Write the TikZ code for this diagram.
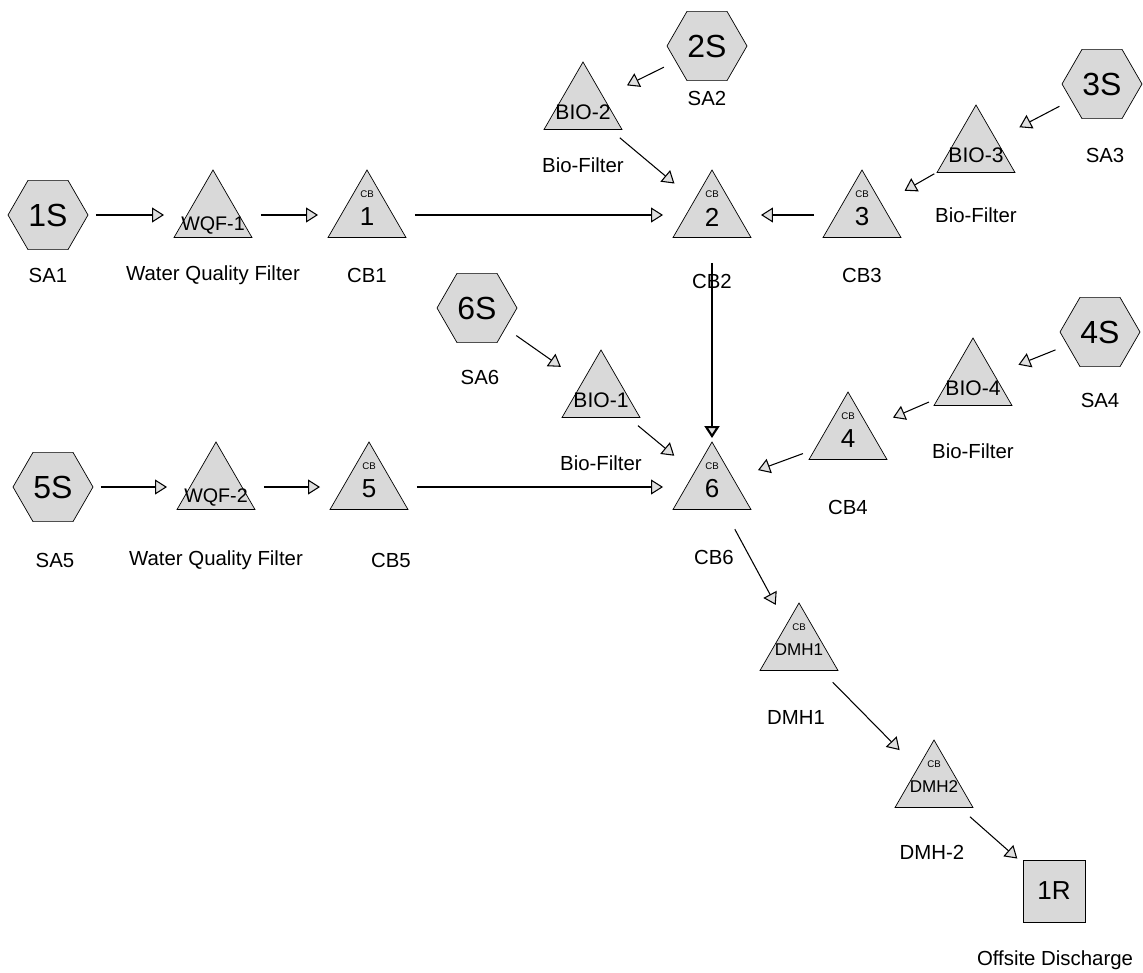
\documentclass[tikz,border=0pt]{standalone}
\usepackage{fontspec}
\setmainfont{Liberation Sans}
\usetikzlibrary{arrows.meta,calc,positioning,shapes.geometric}

\begin{document}
\begin{tikzpicture}[x=0.02cm, y=-0.02cm,
                    sub/.style    ={regular polygon, regular polygon sides=6, minimum size=1.6cm, inner sep=0, draw=black, fill=gray!30, font=\fontsize{18.2}{19}\selectfont},
                    pond/.style   ={regular polygon, regular polygon sides=3, minimum size=1.8cm, inner sep=0, draw=black, fill=gray!30},
                    reach/.style  ={rectangle, minimum size=1.24cm, inner sep=0, draw=black, fill=gray!30, font=\fontsize{14.8}{15}\selectfont},
                    cbtag/.style  ={inner sep=0, yshift=0.42cm, font=\fontsize{5.5}{6}\selectfont},
                    pondnum/.style={inner sep=0, yshift=-0.04cm, font=\fontsize{14.8}{15}\selectfont},
                    dmhtxt/.style ={inner sep=0, yshift=-0.04cm, font=\fontsize{9.7}{10}\selectfont},
                    pondtxt/.style={inner sep=0, yshift=-0.1cm, font=\fontsize{12}{13}\selectfont},
                    wqftxt/.style ={inner sep=0, yshift=-0.2cm, font=\fontsize{11.2}{12}\selectfont},
                    lbl/.style    ={inner sep=0, font=\fontsize{11.6}{13}\selectfont},
                    link/.style   ={-{Triangle[length=0.24cm, width=0.3cm, fill=gray!25]}, draw, line width=0.6pt, shorten <=0.96cm, shorten >=0.98cm}]

      \useasboundingbox (0,0) rectangle (1143,973);
      \coordinate (loff) at(0, 68);
      \node[sub]   at(48, 215)              (sa1)  {1S};
      \node[pond, label={[wqftxt]center:WQF-1}] at($(sa1) +(165,0)$)  (wqf1) {};
      \node[pond, label={[cbtag]center:CB}, label={[pondnum]center:1}] at($(wqf1)+(154,0)$)  (cb1)  {};
      \node[pond, label={[cbtag]center:CB}, label={[pondnum]center:2}] at($(cb1) +(345,0)$)  (cb2)  {};
      \node[pond, label={[cbtag]center:CB}, label={[pondnum]center:3}] at($(cb2) +(150,0)$)  (cb3)  {};
      \node[pond, label={[pondtxt]center:BIO-2}] at($(cb2) +(-129,-108)$) (bio2) {};
      \node[sub]   at($(bio2)+(124,-61)$)   (sa2)  {2S};
      \node[pond, label={[pondtxt]center:BIO-3}] at($(cb3) +(114,-65)$)  (bio3) {};
      \node[sub]   at($(bio3)+(126,-66)$)   (sa3)  {3S};
      \node[pond, label={[cbtag]center:CB}, label={[pondnum]center:6}] at($(cb2) +(0,272)$)    (cb6)  {};
      \node[pond, label={[pondtxt]center:BIO-1}] at($(cb6) +(-111,-92)$) (bio1) {};
      \node[sub]   at($(bio1)+(-124,-87)$)  (sa6)  {6S};
      \node[pond, label={[cbtag]center:CB}, label={[pondnum]center:4}] at($(cb6) +(136,-50)$)  (cb4)  {};
      \node[pond, label={[pondtxt]center:BIO-4}] at($(cb4) +(125,-54)$)  (bio4) {};
      \node[sub]   at($(bio4)+(127,-51)$)   (sa4)  {4S};
      \node[pond, label={[cbtag]center:CB}, label={[pondnum]center:5}] at($(cb6) +(-343,0)$)   (cb5)  {};
      \node[pond, label={[wqftxt]center:WQF-2}] at($(cb5) +(-153,0)$)   (wqf2) {};
      \node[sub]   at($(wqf2)+(-163,0)$)    (sa5)  {5S};
      \node[pond, label={[cbtag]center:CB}, label={[dmhtxt]center:DMH1}] at($(cb6) +(87,161)$)   (dmh1) {};
      \node[pond, label={[cbtag]center:CB}, label={[dmhtxt]center:DMH2}] at($(dmh1)+(135,137)$)  (dmh2) {};
      \node[reach] at($(dmh2)+(120,106)$)   (r1)   {1R};

      \node[lbl] at($(sa1) +(0,60)$)  (sa1Lbl)  {SA1};
      \node[lbl] at($(wqf1)+(0,60)$)  (wqf1Lbl) {Water Quality Filter};
      \node[lbl] at($(cb1) +(0,60)$)  (cb1Lbl)  {CB1};
      \node[lbl] at($(cb2) +(0,66)$)  (cb2Lbl)  {CB2};
      \node[lbl] at($(cb3) +(0,60)$)  (cb3Lbl)  {CB3};
      \node[lbl] at($(sa2) +(0,52)$)  (sa2Lbl)  {SA2};
      \node[lbl] at($(bio2)+(0,58)$)  (bio2Lbl) {Bio-Filter};
      \node[lbl] at($(sa3) +(3,71)$)  (sa3Lbl)  {SA3};
      \node[lbl] at($(bio3)+(0,65)$)  (bio3Lbl) {Bio-Filter};
      \node[lbl] at($(sa6) +(3,69)$)  (sa6Lbl)  {SA6};
      \node[lbl] at($(bio1)+(loff)$)  (bio1Lbl) {Bio-Filter};
      \node[lbl] at($(sa4) +(loff)$)  (sa4Lbl)  {SA4};
      \node[lbl] at($(bio4)+(loff)$)  (bio4Lbl) {Bio-Filter};
      \node[lbl] at($(cb4) +(0,70)$)  (cb4Lbl)  {CB4};
      \node[lbl] at($(cb6) +(2,70)$)  (cb6Lbl)  {CB6};
      \node[lbl] at($(sa5) +(2,73)$)  (sa5Lbl)  {SA5};
      \node[lbl] at($(wqf2)+(0,73)$)  (wqf2Lbl) {Water Quality Filter};
      \node[lbl] at($(cb5) +(22,73)$) (cb5Lbl)  {CB5};
      \node[lbl] at($(dmh1)+(-3,69)$) (dmh1Lbl) {DMH1};
      \node[lbl] at($(dmh2)+(-2,67)$) (dmh2Lbl) {DMH-2};
      \node[lbl] at($(r1)  +(1,69)$)  (r1Lbl)   {Offsite Discharge};

      \path[link] (sa1.center)  -- (wqf1.center);
      \path[link] (wqf1.center) -- (cb1.center);
      \path[link] (cb1.center)  -- (cb2.center);
      \path[link] (cb3.center)  -- (cb2.center);
      \path[link] (sa2.center)  -- (bio2.center);
      \path[link] (bio2.center) -- (cb2.center);
      \path[link] (sa3.center)  -- (bio3.center);
      \path[link] (bio3.center) -- (cb3.center);
      \path[link, line width=1.2pt] (cb2.center) -- (cb6.center);
      \path[link] (sa6.center)  -- (bio1.center);
      \path[link] (bio1.center) -- (cb6.center);
      \path[link] (sa4.center)  -- (bio4.center);
      \path[link] (bio4.center) -- (cb4.center);
      \path[link] (cb4.center)  -- (cb6.center);
      \path[link] (sa5.center)  -- (wqf2.center);
      \path[link] (wqf2.center) -- (cb5.center);
      \path[link] (cb5.center)  -- (cb6.center);
      \path[link] (cb6.center)  -- (dmh1.center);
      \path[link] (dmh1.center) -- (dmh2.center);
      \path[link] (dmh2.center) -- (r1.center);
    \end{tikzpicture}
\end{document}
